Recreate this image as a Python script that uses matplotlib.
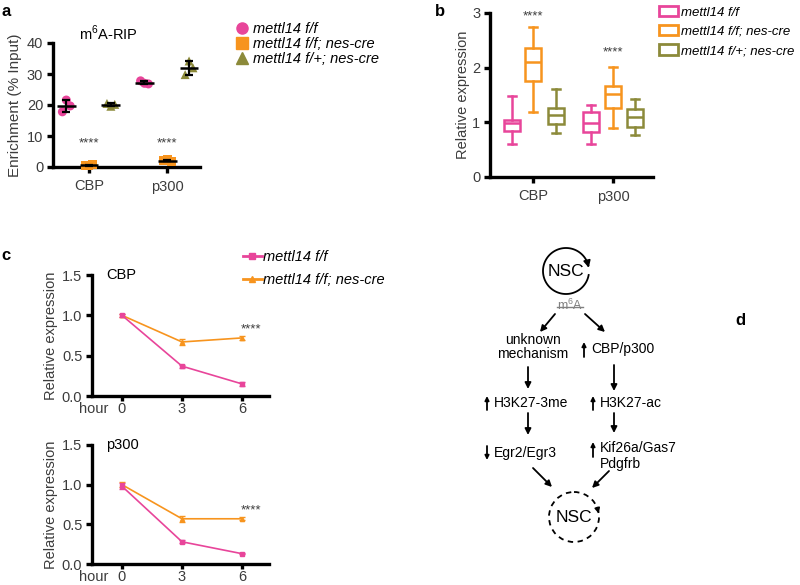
import numpy as np
import matplotlib.pyplot as plt
from matplotlib.lines import Line2D
from matplotlib.patches import Patch, Circle

plt.rcParams['font.family'] = ['Liberation Sans', 'DejaVu Sans']
plt.rcParams['mathtext.fontset'] = 'custom'
plt.rcParams['mathtext.rm'] = 'Liberation Sans'

W, H = 800, 585

pink = '#E8459A'
orange = '#F7941E'
olive = '#8C8A3A'
tick_grey = '#3c3c3c'

groups = ['mettl14 f/f', 'mettl14 f/f; nes-cre', 'mettl14 f/+; nes-cre']
genes = ['CBP', 'p300']

# a: m6A-RIP, replicate values (% input) for CBP, p300
rip_ff = [[17.8, 21.6, 19.7], [27.8, 27.0, 26.8]]
rip_ko = [[0.6, 0.4, 0.8], [2.0, 2.3, 1.8]]
rip_het = [[20.5, 19.6, 20.2], [29.8, 34.2, 32.0]]
rip_jitter = [-0.05, 0.0, 0.05]

# b: box stats (whislo, q1, med, q3, whishi) for CBP, p300
box_ff = [(0.61, 0.84, 0.99, 1.05, 1.48), (0.61, 0.83, 0.99, 1.19, 1.32)]
box_ko = [(1.19, 1.75, 2.11, 2.36, 2.74), (0.89, 1.27, 1.52, 1.66, 2.01)]
box_het = [(0.80, 0.97, 1.13, 1.26, 1.61), (0.77, 0.91, 1.10, 1.25, 1.43)]
box_stars_y = [2.94, 2.27]

# c: time course
hours = [0, 3, 6]
cbp_ff = [1.0, 0.37, 0.15]
cbp_ff_err = [0.02, 0.02, 0.02]
cbp_ko = [1.0, 0.67, 0.72]
cbp_ko_err = [0.02, 0.04, 0.02]
p300_ff = [0.98, 0.28, 0.13]
p300_ff_err = [0.04, 0.02, 0.01]
p300_ko = [1.0, 0.57, 0.57]
p300_ko_err = [0.03, 0.04, 0.02]


def px_axes(fig, left, top, right, bottom):
    ''' axes from pixel box (top-left origin) '''
    return fig.add_axes([left / W, 1 - bottom / H, (right - left) / W, (bottom - top) / H])


def style(ax):
    for s in ['top', 'right']:
        ax.spines[s].set_visible(False)
    for s in ['left', 'bottom']:
        ax.spines[s].set_linewidth(2.4)
    ax.tick_params(direction='out', length=4, width=2.4, labelsize=10.5,
                   labelcolor=tick_grey, pad=3)


fig = plt.figure(figsize=(W / 100, H / 100), dpi=100)

# ---------------- a ----------------
ax_a = px_axes(fig, 53, 43, 200, 167)
style(ax_a)
offs = [-0.29, 0.0, 0.28]
markers = ['o', 's', '^']
colors = [pink, orange, olive]
for k, data in enumerate([rip_ff, rip_ko, rip_het]):
    for g in range(2):
        xs = np.array(rip_jitter) + g + offs[k]
        ax_a.scatter(xs, data[g], s=42, marker=markers[k], color=colors[k],
                     edgecolors='none', zorder=3, clip_on=False)
        m = np.mean(data[g])
        sd = np.std(data[g], ddof=1)
        ax_a.errorbar(g + offs[k], m, yerr=sd, fmt='none', ecolor='k',
                      elinewidth=1.6, capsize=3, capthick=1.6, zorder=4)
        ax_a.hlines(m, g + offs[k] - 0.12, g + offs[k] + 0.12, color='k', lw=1.8, zorder=4)
for g in range(2):
    ax_a.text(g, 7.5, '****', ha='center', va='center', fontsize=9.5, color=tick_grey)
ax_a.set_xlim(-0.46, 1.42)
ax_a.set_ylim(0, 40)
ax_a.set_yticks([0, 10, 20, 30, 40])
ax_a.set_xticks([0, 1])
ax_a.set_xticklabels(genes)
ax_a.tick_params(axis='x', pad=5)
ax_a.set_ylabel('Enrichment (% Input)', fontsize=11, color=tick_grey)
ax_a.yaxis.set_label_coords(-0.21, 0.5)
ax_a.text(0.38, 1.08, 'm$^6$A-RIP', transform=ax_a.transAxes, ha='center',
          va='center', fontsize=10.5)
handles_a = [Line2D([], [], ls='none', marker=mk, color=c, markersize=8)
             for mk, c in zip(markers, colors)]
ax_a.legend(handles_a, groups, loc='upper left', bbox_to_anchor=(233 / W, 1 - 22 / H),
            bbox_transform=fig.transFigure, frameon=False, handletextpad=0.2,
            handlelength=1.2, labelspacing=0.08, borderaxespad=0, borderpad=0,
            prop={'style': 'italic', 'size': 10.5})

# ---------------- b ----------------
ax_b = px_axes(fig, 490, 13, 653, 177)
style(ax_b)
box_offs = [-0.27, 0.0, 0.28]
for k, data in enumerate([box_ff, box_ko, box_het]):
    stats = [dict(whislo=s[0], q1=s[1], med=s[2], q3=s[3], whishi=s[4], fliers=[])
             for s in data]
    c = colors[k]
    ax_b.bxp(stats, positions=[g + box_offs[k] for g in range(2)], widths=0.2,
             capwidths=0.1, showfliers=False, patch_artist=True,
             boxprops=dict(facecolor='white', edgecolor=c, lw=1.8),
             whiskerprops=dict(color=c, lw=1.8), capprops=dict(color=c, lw=1.8),
             medianprops=dict(color=c, lw=1.8), manage_ticks=False)
for g in range(2):
    ax_b.text(g, box_stars_y[g], '****', ha='center', va='center', fontsize=9.5,
              color=tick_grey)
ax_b.set_xlim(-0.54, 1.5)
ax_b.set_ylim(0, 3)
ax_b.set_yticks([0, 1, 2, 3])
ax_b.set_xticks([0, 1])
ax_b.set_xticklabels(genes)
ax_b.tick_params(axis='x', pad=5)
ax_b.set_ylabel('Relative expression', fontsize=10.5, color=tick_grey)
ax_b.yaxis.set_label_coords(-0.12, 0.5)
handles_b = [Patch(facecolor='white', edgecolor=c, lw=2) for c in colors]
ax_b.legend(handles_b, groups, loc='upper left', bbox_to_anchor=(659 / W, 1 - 6 / H),
            bbox_transform=fig.transFigure, frameon=False, handletextpad=0.25,
            handlelength=1.45, handleheight=0.8, labelspacing=0.5, borderaxespad=0,
            borderpad=0, prop={'style': 'italic', 'size': 9.5})

# ---------------- c ----------------
series_c = [(genes[0], 275, 396, cbp_ff, cbp_ff_err, cbp_ko, cbp_ko_err, 0.82),
            (genes[1], 445, 564, p300_ff, p300_ff_err, p300_ko, p300_ko_err, 0.67)]
for name, top, bottom, ff, ff_e, ko, ko_e, star_y in series_c:
    ax = px_axes(fig, 92, top, 269, bottom)
    style(ax)
    ax.errorbar(hours, ko, yerr=ko_e, color=orange, lw=1.2, marker='^', markersize=3,
                capsize=2, elinewidth=1, zorder=3)
    ax.errorbar(hours, ff, yerr=ff_e, color=pink, lw=1.2, marker='s', markersize=3,
                capsize=2, elinewidth=1, zorder=4)
    ax.text(6.45, star_y, '****', ha='center', va='center', fontsize=9.5, color=tick_grey)
    ax.set_xlim(-1.5, 7.35)
    ax.set_ylim(0, 1.5)
    ax.set_yticks([0, 0.5, 1.0, 1.5])
    ax.set_yticklabels(['0.0', '0.5', '1.0', '1.5'])
    ax.set_xticks(hours)
    ax.tick_params(axis='x', length=3.5, pad=0.5)
    ax.set_ylabel('Relative expression', fontsize=10.5, color=tick_grey)
    ax.yaxis.set_label_coords(-0.19, 0.5)
    ax.text(0.08, 1.0, name, transform=ax.transAxes, ha='left', va='center',
            fontsize=10.5)
    ax.annotate('hour', xy=(0, 0), xycoords='axes fraction', xytext=(-9, -4),
                textcoords='offset points', ha='left', va='top', fontsize=10.5,
                color=tick_grey)
    if name == genes[0]:
        handles_c = [Line2D([], [], color=pink, lw=2, marker='s', markersize=5),
                     Line2D([], [], color=orange, lw=2, marker='^', markersize=5)]
        ax.legend(handles_c, groups[:2], loc='upper left',
                  bbox_to_anchor=(243 / W, 1 - 250 / H), bbox_transform=fig.transFigure,
                  frameon=False, handletextpad=0.1, handlelength=1.3,
                  labelspacing=0.6, borderaxespad=0, borderpad=0,
                  prop={'style': 'italic', 'size': 10.5})

# ---------------- d (schematic, pixel coordinates) ----------------
axd = fig.add_axes([0, 0, 1, 1], zorder=-1)
axd.set_xlim(0, W)
axd.set_ylim(H, 0)
axd.axis('off')


def arrow(x0, y0, x1, y1, scale=9):
    axd.annotate('', xy=(x1, y1), xytext=(x0, y0),
                 arrowprops=dict(arrowstyle='-|>', lw=1.3, color='k',
                                 mutation_scale=scale, shrinkA=0, shrinkB=0))


# top self-renewal circle
cx, cy, r = 566, 271, 23
t = np.radians(np.linspace(350, 14, 120))
axd.plot(cx + r * np.cos(t), cy - r * np.sin(t), color='k', lw=1.3)
arrow(cx + r * np.cos(t[-3]), cy - r * np.sin(t[-3]),
      cx + r * np.cos(np.radians(8)), cy - r * np.sin(np.radians(8)), 10)
axd.text(cx, cy, 'NSC', ha='center', va='center', fontsize=12.5)
axd.text(570, 305, 'm$^6$A', ha='center', va='center', fontsize=9, color='#808080')
axd.plot([557, 583], [307, 307], color='#808080', lw=1)

arrow(555, 314, 540, 332)
arrow(585, 314, 605, 332)

axd.text(533, 347, 'unknown\nmechanism', ha='center', va='center', fontsize=10,
         linespacing=0.95)
arrow(584, 357, 584, 342, 6)
axd.text(591, 349, 'CBP/p300', ha='left', va='center', fontsize=10)

arrow(528, 367, 528, 389)
arrow(614, 365, 614, 391)

arrow(487, 410, 487, 396, 6)
axd.text(494, 403, 'H3K27-3me', ha='left', va='center', fontsize=10)
arrow(593, 410, 593, 396, 6)
axd.text(600, 403, 'H3K27-ac', ha='left', va='center', fontsize=10)

arrow(528, 413, 528, 435)
arrow(614, 413, 614, 433)

arrow(487, 446, 487, 460, 6)
axd.text(494, 453, 'Egr2/Egr3', ha='left', va='center', fontsize=10)
arrow(593, 457, 593, 442, 6)
axd.text(600, 448, 'Kif26a/Gas7', ha='left', va='center', fontsize=10)
axd.text(600, 464, 'Pdgfrb', ha='left', va='center', fontsize=10)

arrow(533, 468, 552, 487)
arrow(609, 471, 592, 488)

bx, by, br = 574, 517, 25
axd.add_patch(Circle((bx, by), br, fill=False, lw=1.3, ls=(0, (3, 2.5)), color='k'))
arrow(bx + br * np.cos(np.radians(22)), by - br * np.sin(np.radians(22)),
      bx + br * np.cos(np.radians(8)), by - br * np.sin(np.radians(8)), 7)
axd.text(bx, by, 'NSC', ha='center', va='center', fontsize=12.5)

# panel letters
for lab, x, y in [('a', 1, 11), ('b', 435, 11), ('c', 1, 255), ('d', 735, 320)]:
    fig.text(x / W, 1 - y / H, lab, ha='left', va='center', fontsize=12,
             fontweight='bold')

fig.savefig('out.png', dpi=100)
